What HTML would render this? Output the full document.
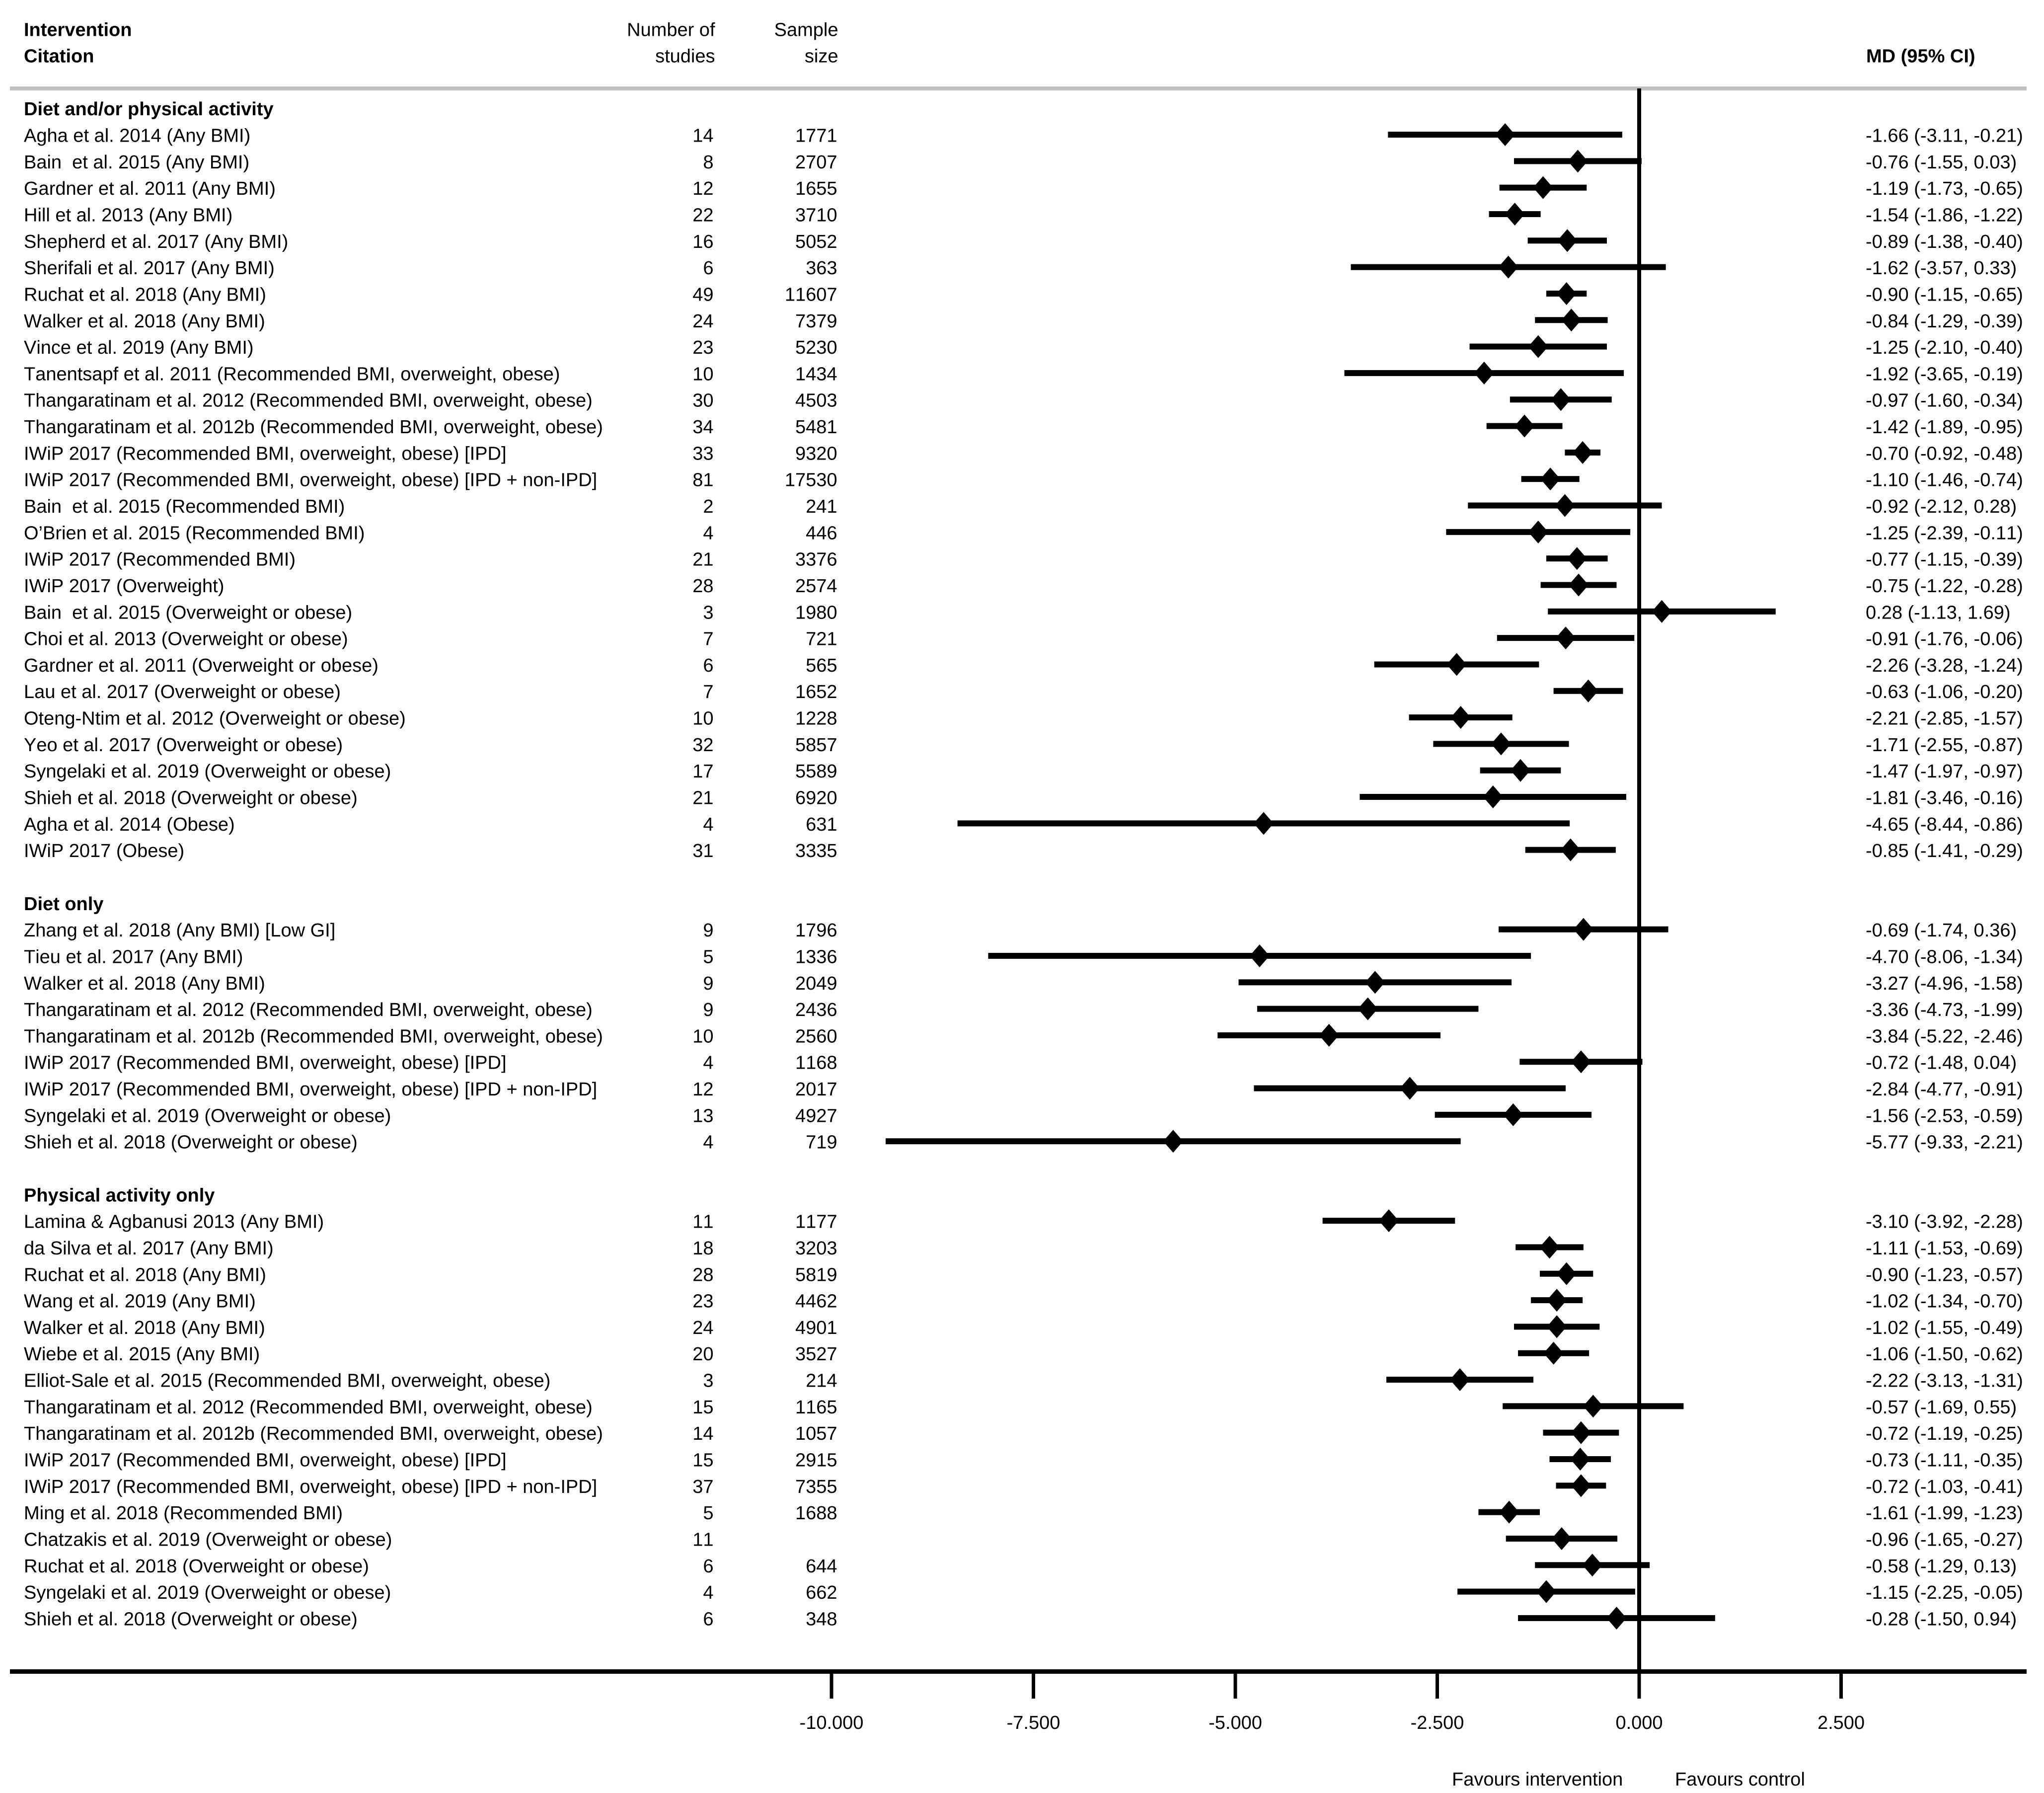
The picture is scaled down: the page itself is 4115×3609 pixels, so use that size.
<!DOCTYPE html>
<html lang="en">
<head>
<meta charset="utf-8">
<title>Forest plot of mean differences</title>
<style>
  html, body { margin: 0; padding: 0; background: #fff; }
  svg { display: block; }
  text { font-family: "Liberation Sans", Arial, sans-serif; font-size: 38px; fill: #000; white-space: pre; font-kerning: none; text-rendering: geometricPrecision; }
  .b { font-weight: bold; }
</style>
</head>
<body>
<svg id="chart" xmlns="http://www.w3.org/2000/svg" width="4115" height="3609" viewBox="0 0 4115 3609">
  <rect x="0" y="0" width="4115" height="3609" fill="#fff"/>
  <text class="b" x="48" y="72.4">Intervention</text>
  <text class="b" x="48" y="125.6">Citation</text>
  <text x="1439.5" y="72.4" text-anchor="end">Number of</text>
  <text x="1439.5" y="125.6" text-anchor="end">studies</text>
  <text x="1687.5" y="72.4" text-anchor="end">Sample</text>
  <text x="1687.5" y="125.6" text-anchor="end">size</text>
  <text class="b" x="3757" y="125.6">MD (95% CI)</text>
  <rect x="20" y="174" width="4060" height="8" fill="#c0c0c0"/>
  <rect x="20" y="3360" width="4060" height="9" fill="#000"/>
  <text x="2923" y="3594">Favours intervention</text>
  <text x="3372" y="3594">Favours control</text>
  <g id="marks"></g>
  <g id="labels"></g>
  <g id="axis"></g>
</svg>
<script>
const groupNames = ["Diet and/or physical activity", "Diet only", "Physical activity only"];
const groupSizes = [28, 9, 16];
const citations = [
  "Agha et al. 2014 (Any BMI)",
  "Bain  et al. 2015 (Any BMI)",
  "Gardner et al. 2011 (Any BMI)",
  "Hill et al. 2013 (Any BMI)",
  "Shepherd et al. 2017 (Any BMI)",
  "Sherifali et al. 2017 (Any BMI)",
  "Ruchat et al. 2018 (Any BMI)",
  "Walker et al. 2018 (Any BMI)",
  "Vince et al. 2019 (Any BMI)",
  "Tanentsapf et al. 2011 (Recommended BMI, overweight, obese)",
  "Thangaratinam et al. 2012 (Recommended BMI, overweight, obese)",
  "Thangaratinam et al. 2012b (Recommended BMI, overweight, obese)",
  "IWiP 2017 (Recommended BMI, overweight, obese) [IPD]",
  "IWiP 2017 (Recommended BMI, overweight, obese) [IPD + non-IPD]",
  "Bain  et al. 2015 (Recommended BMI)",
  "O’Brien et al. 2015 (Recommended BMI)",
  "IWiP 2017 (Recommended BMI)",
  "IWiP 2017 (Overweight)",
  "Bain  et al. 2015 (Overweight or obese)",
  "Choi et al. 2013 (Overweight or obese)",
  "Gardner et al. 2011 (Overweight or obese)",
  "Lau et al. 2017 (Overweight or obese)",
  "Oteng-Ntim et al. 2012 (Overweight or obese)",
  "Yeo et al. 2017 (Overweight or obese)",
  "Syngelaki et al. 2019 (Overweight or obese)",
  "Shieh et al. 2018 (Overweight or obese)",
  "Agha et al. 2014 (Obese)",
  "IWiP 2017 (Obese)",
  "Zhang et al. 2018 (Any BMI) [Low GI]",
  "Tieu et al. 2017 (Any BMI)",
  "Walker et al. 2018 (Any BMI)",
  "Thangaratinam et al. 2012 (Recommended BMI, overweight, obese)",
  "Thangaratinam et al. 2012b (Recommended BMI, overweight, obese)",
  "IWiP 2017 (Recommended BMI, overweight, obese) [IPD]",
  "IWiP 2017 (Recommended BMI, overweight, obese) [IPD + non-IPD]",
  "Syngelaki et al. 2019 (Overweight or obese)",
  "Shieh et al. 2018 (Overweight or obese)",
  "Lamina & Agbanusi 2013 (Any BMI)",
  "da Silva et al. 2017 (Any BMI)",
  "Ruchat et al. 2018 (Any BMI)",
  "Wang et al. 2019 (Any BMI)",
  "Walker et al. 2018 (Any BMI)",
  "Wiebe et al. 2015 (Any BMI)",
  "Elliot-Sale et al. 2015 (Recommended BMI, overweight, obese)",
  "Thangaratinam et al. 2012 (Recommended BMI, overweight, obese)",
  "Thangaratinam et al. 2012b (Recommended BMI, overweight, obese)",
  "IWiP 2017 (Recommended BMI, overweight, obese) [IPD]",
  "IWiP 2017 (Recommended BMI, overweight, obese) [IPD + non-IPD]",
  "Ming et al. 2018 (Recommended BMI)",
  "Chatzakis et al. 2019 (Overweight or obese)",
  "Ruchat et al. 2018 (Overweight or obese)",
  "Syngelaki et al. 2019 (Overweight or obese)",
  "Shieh et al. 2018 (Overweight or obese)"
];
const studyCounts = [14,8,12,22,16,6,49,24,23,10,30,34,33,81,2,4,21,28,3,7,6,7,10,32,17,21,4,31,
  9,5,9,9,10,4,12,13,4,
  11,18,28,23,24,20,3,15,14,15,37,5,11,6,4,6];
const sampleSizes = [1771,2707,1655,3710,5052,363,11607,7379,5230,1434,4503,5481,9320,17530,241,446,3376,2574,1980,721,565,1652,1228,5857,5589,6920,631,3335,
  1796,1336,2049,2436,2560,1168,2017,4927,719,
  1177,3203,5819,4462,4901,3527,214,1165,1057,2915,7355,1688,null,644,662,348];
const meanDiffs = [-1.66,-0.76,-1.19,-1.54,-0.89,-1.62,-0.90,-0.84,-1.25,-1.92,-0.97,-1.42,-0.70,-1.10,-0.92,-1.25,-0.77,-0.75,0.28,-0.91,-2.26,-0.63,-2.21,-1.71,-1.47,-1.81,-4.65,-0.85,
  -0.69,-4.70,-3.27,-3.36,-3.84,-0.72,-2.84,-1.56,-5.77,
  -3.10,-1.11,-0.90,-1.02,-1.02,-1.06,-2.22,-0.57,-0.72,-0.73,-0.72,-1.61,-0.96,-0.58,-1.15,-0.28];
const ciLower = [-3.11,-1.55,-1.73,-1.86,-1.38,-3.57,-1.15,-1.29,-2.10,-3.65,-1.60,-1.89,-0.92,-1.46,-2.12,-2.39,-1.15,-1.22,-1.13,-1.76,-3.28,-1.06,-2.85,-2.55,-1.97,-3.46,-8.44,-1.41,
  -1.74,-8.06,-4.96,-4.73,-5.22,-1.48,-4.77,-2.53,-9.33,
  -3.92,-1.53,-1.23,-1.34,-1.55,-1.50,-3.13,-1.69,-1.19,-1.11,-1.03,-1.99,-1.65,-1.29,-2.25,-1.50];
const ciUpper = [-0.21,0.03,-0.65,-1.22,-0.40,0.33,-0.65,-0.39,-0.40,-0.19,-0.34,-0.95,-0.48,-0.74,0.28,-0.11,-0.39,-0.28,1.69,-0.06,-1.24,-0.20,-1.57,-0.87,-0.97,-0.16,-0.86,-0.29,
  0.36,-1.34,-1.58,-1.99,-2.46,0.04,-0.91,-0.59,-2.21,
  -2.28,-0.69,-0.57,-0.70,-0.49,-0.62,-1.31,0.55,-0.25,-0.35,-0.41,-1.23,-0.27,0.13,-0.05,0.94];
const tickValues = [-10, -7.5, -5, -2.5, 0, 2.5];
const tickLabels = ["-10.000", "-7.500", "-5.000", "-2.500", "0.000", "2.500"];

const SVGNS = "http://www.w3.org/2000/svg";
const xZero = 3300, xPerUnit = 162.6;
const rowZeroBaseline = 232.2, rowHeight = 53.32;
const xScale = v => xZero + v * xPerUnit;
const yScale = row => rowZeroBaseline + row * rowHeight;

const marks = document.getElementById("marks");
const labels = document.getElementById("labels");
const axis = document.getElementById("axis");

function make(tag, parent) {
  const el = document.createElementNS(SVGNS, tag);
  parent.appendChild(el);
  return el;
}
function putText(parent, x, y, str, anchor) {
  const el = make("text", parent);
  el.setAttribute("x", x);
  el.setAttribute("y", y);
  if (anchor) el.setAttribute("text-anchor", anchor);
  el.textContent = str;
  return el;
}

// zero reference line
const zeroLine = make("rect", marks);
zeroLine.setAttribute("x", xScale(0) - 4);
zeroLine.setAttribute("y", 178);
zeroLine.setAttribute("width", 8);
zeroLine.setAttribute("height", 3182);



let row = 0, idx = 0;
groupNames.forEach((name, g) => {
  const title = putText(labels, 48, yScale(row), name);
  title.setAttribute("class", "b");
  
  
  row += 1;
  for (let k = 0; k < groupSizes[g]; k++, idx++, row++) {
    const y = yScale(row);
    const cy = y - 14.5;

    const cite = putText(labels, 48, y, citations[idx]);
    
    

    const n = putText(labels, 1436.5, y, String(studyCounts[idx]), "end");
    
    

    if (sampleSizes[idx] !== null) {
      const s = putText(labels, 1685.5, y, String(sampleSizes[idx]), "end");
      
      
    }

    const md = meanDiffs[idx].toFixed(2);
    const lo = ciLower[idx].toFixed(2);
    const hi = ciUpper[idx].toFixed(2);
    const ci = putText(labels, 3756, y, md + " (" + lo + ", " + hi + ")");
    
    

    const bar = make("rect", marks);
    bar.setAttribute("x", xScale(ciLower[idx]));
    bar.setAttribute("y", cy - 6);
    bar.setAttribute("width", xScale(ciUpper[idx]) - xScale(ciLower[idx]));
    bar.setAttribute("height", 12);
    
    

    const cx = xScale(meanDiffs[idx]);
    const dia = make("polygon", marks);
    dia.setAttribute("points", [cx, cy - 23, cx + 20, cy, cx, cy + 23, cx - 20, cy].join(" "));
    
    
  }
  row += 1;
});

tickValues.forEach((v, i) => {
  const tick = make("rect", axis);
  tick.setAttribute("x", xScale(v) - 3.5);
  tick.setAttribute("y", 3369);
  tick.setAttribute("width", 7);
  tick.setAttribute("height", 50);
  
  

  const lab = putText(axis, xScale(v), 3480, tickLabels[i], "middle");
  
  
});
</script>
</body>
</html>
